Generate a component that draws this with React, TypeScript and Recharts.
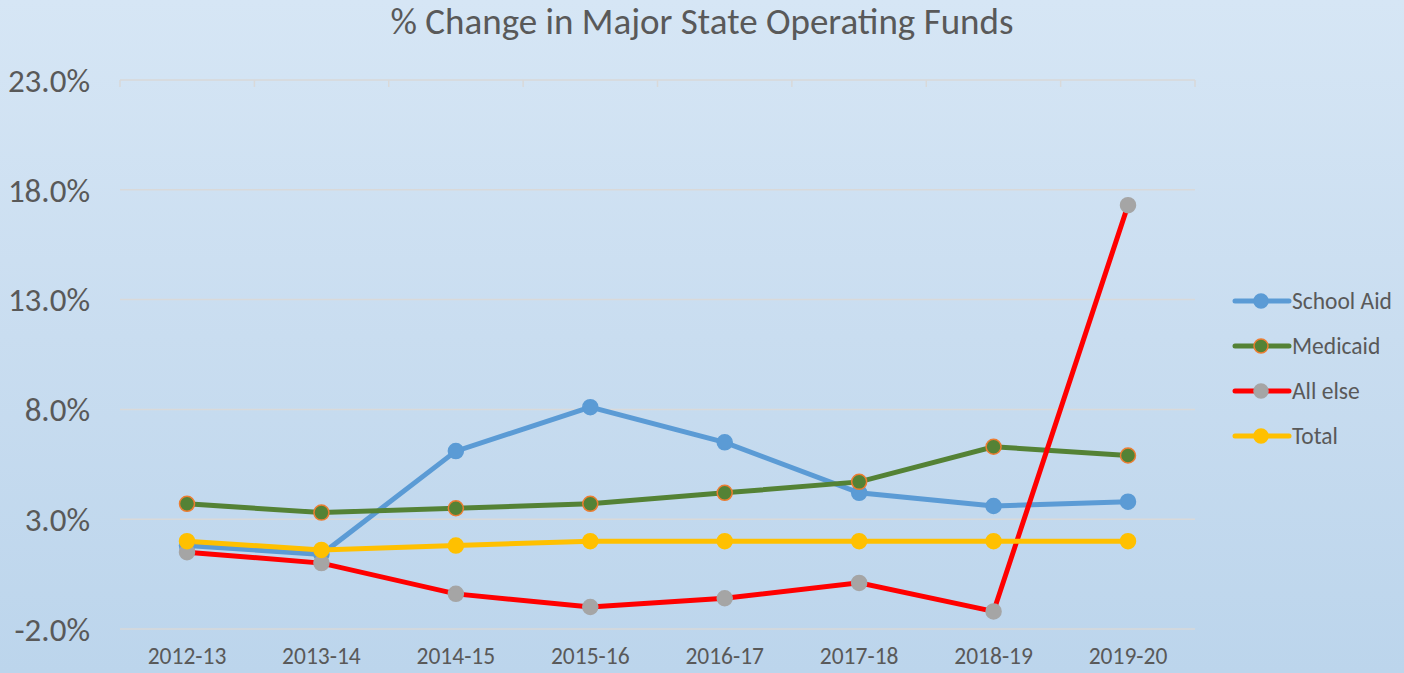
import React from 'react';
import { LineChart, Line, XAxis, YAxis, CartesianGrid } from 'recharts';

const years = ['2012-13', '2013-14', '2014-15', '2015-16', '2016-17', '2017-18', '2018-19', '2019-20'];
const schoolAid = [1.8, 1.4, 6.1, 8.1, 6.5, 4.2, 3.6, 3.8];
const medicaid = [3.7, 3.3, 3.5, 3.7, 4.2, 4.7, 6.3, 5.9];
const allElse = [1.5, 1.0, -0.4, -1.0, -0.6, 0.1, -1.2, 17.3];
const total = [2.0, 1.6, 1.8, 2.0, 2.0, 2.0, 2.0, 2.0];
const yTicks = [-2, 3, 8, 13, 18, 23];
const bandEdges = [0, 1, 2, 3, 4, 5, 6, 7, 8];

const data = years.map((year, i) => ({
    year,
    idx: i + 0.5,
    schoolAid: schoolAid[i],
    medicaid: medicaid[i],
    allElse: allElse[i],
    total: total[i],
}));

const series = [
    { key: 'schoolAid', name: 'School Aid', stroke: '#5b9bd5', fill: '#5b9bd5', edge: '#5b9bd5' },
    { key: 'medicaid', name: 'Medicaid', stroke: '#548235', fill: '#548235', edge: '#ed7d31' },
    { key: 'allElse', name: 'All else', stroke: '#ff0000', fill: '#a5a5a5', edge: '#a5a5a5' },
    { key: 'total', name: 'Total', stroke: '#ffc000', fill: '#ffc000', edge: '#ffc000' },
];

const font = 'Calibri, Carlito, "Open Sans", sans-serif';

function LegendBox() {
    return (
        <div style={{ position: 'absolute', left: 1232, top: 278, fontFamily: font }}>
            {series.map((s) => (
                <div key={s.key} style={{ display: 'flex', alignItems: 'center', height: 45 }}>
                    <svg width={60} height={18}>
                        <line x1={3} y1={9} x2={57} y2={9} stroke={s.stroke} strokeWidth={5} strokeLinecap="round" />
                        <circle cx={29} cy={9} r={7} fill={s.fill} stroke={s.edge} strokeWidth={1.5} />
                    </svg>
                    <span style={{ fontSize: 23.5, color: '#595959' }}>{s.name}</span>
                </div>
            ))}
        </div>
    );
}

export default function App() {
    return (
        <div
            style={{
                position: 'absolute',
                left: 0,
                top: 0,
                width: 1404,
                height: 673,
                background: 'linear-gradient(180deg, #d6e6f5 0%, #c9ddf0 50%, #bcd5ec 100%)',
            }}
        >
            <div
                style={{
                    position: 'absolute',
                    top: 0,
                    width: '100%',
                    textAlign: 'center',
                    fontFamily: font,
                    fontSize: 37,
                    lineHeight: '44px',
                    color: '#595959',
                }}
            >
                % Change in Major State Operating Funds
            </div>
            <LegendBox />
            <LineChart width={1404} height={673} data={data} margin={{ top: 80, right: 209, bottom: 0, left: 0 }}>
                <CartesianGrid vertical={false} stroke="#d9d9d9" strokeWidth={1.5} />
                <XAxis
                    dataKey="year"
                    height={44}
                    padding={{ left: 67, right: 67 }}
                    axisLine={false}
                    tickLine={false}
                    tickSize={0}
                    tickMargin={18}
                    tick={{ fill: '#595959', fontSize: 23.5, fontFamily: font }}
                />
                <XAxis
                    xAxisId="top"
                    orientation="top"
                    type="number"
                    dataKey="idx"
                    domain={[0, 8]}
                    ticks={bandEdges}
                    interval={0}
                    height={1}
                    mirror
                    tick={() => <g />}
                    tickSize={7}
                    axisLine={false}
                    tickLine={{ stroke: '#d9d9d9', strokeWidth: 1.5 }}
                />
                <YAxis
                    width={120}
                    domain={[-2, 23]}
                    ticks={yTicks}
                    axisLine={false}
                    tickLine={false}
                    tickSize={0}
                    tickMargin={30}
                    tickFormatter={(v: number) => `${v.toFixed(1)}%`}
                    tick={{ fill: '#595959', fontSize: 33, fontFamily: font }}
                />
                {series.map((s) => (
                    <Line
                        key={s.key}
                        dataKey={s.key}
                        name={s.name}
                        stroke={s.stroke}
                        strokeWidth={5}
                        dot={{ r: 7.5, fill: s.fill, stroke: s.edge, strokeWidth: 1.5 }}
                        isAnimationActive={false}
                    />
                ))}
            </LineChart>
        </div>
    );
}
